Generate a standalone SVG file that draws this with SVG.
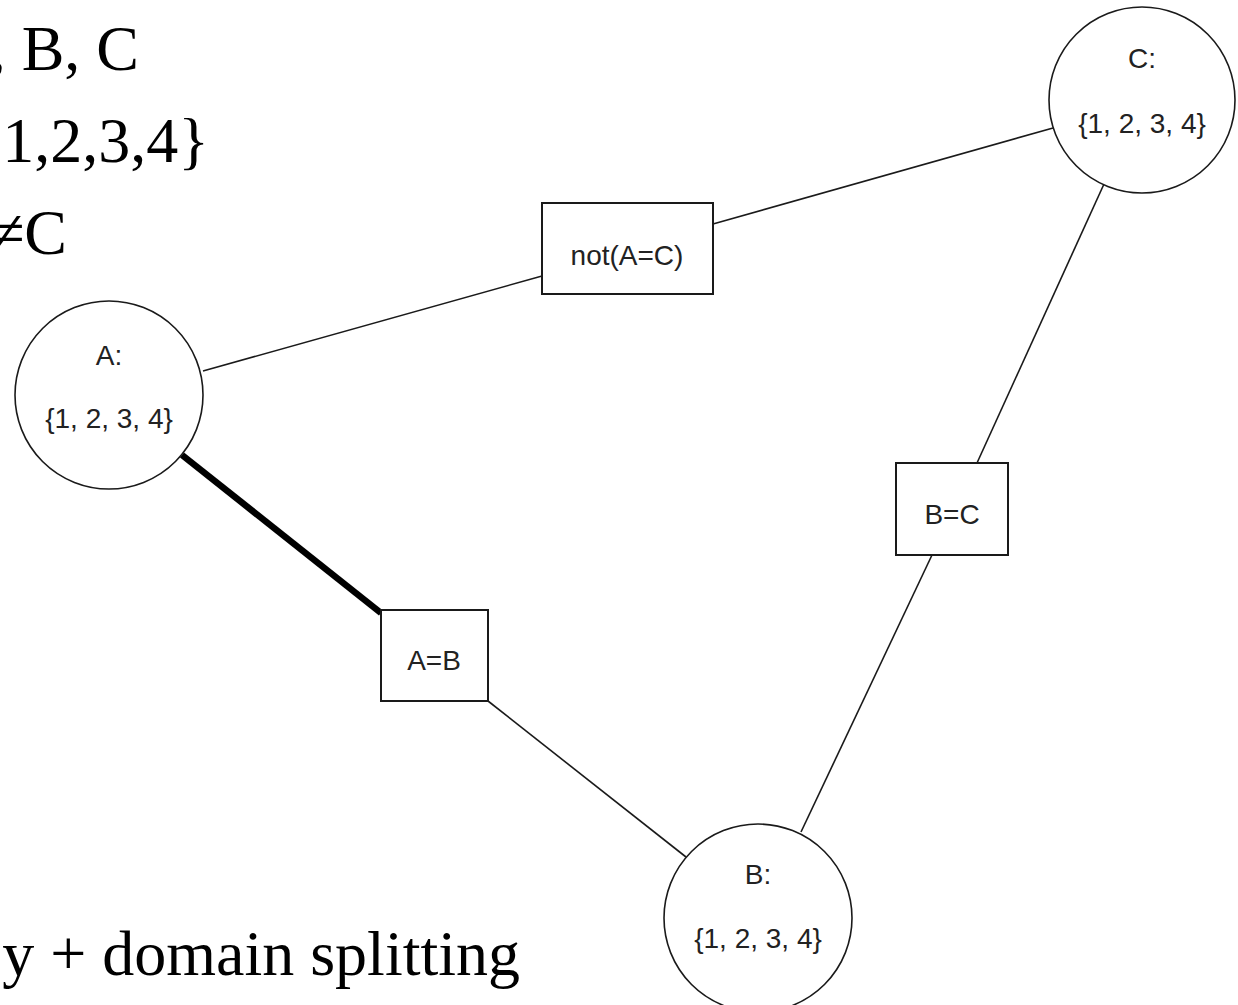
<svg xmlns="http://www.w3.org/2000/svg" width="1238" height="1005" viewBox="0 0 1238 1005">
  <style>
    .bg { fill: #ffffff; }
    .var circle { fill: #ffffff; stroke: #1a1a1a; stroke-width: 1.6; }
    .con rect { fill: #ffffff; stroke: #1a1a1a; stroke-width: 2; }
    .lbl { font-family: "Liberation Sans", Arial, sans-serif; font-size: 28px; fill: #222222; text-anchor: middle; }
    .edge { stroke: #1a1a1a; stroke-width: 1.6; fill: none; }
    .edge.active { stroke: #000000; stroke-width: 6.5; }
    .note { font-family: "Liberation Serif", "Times New Roman", serif; font-size: 64px; fill: #000000; text-anchor: end; }
  </style>

  <rect class="bg" x="0" y="0" width="1238" height="1005"/>

  <!-- problem statement text (clipped at the left edge) -->
  <g id="notes">
    <text class="note" x="139" y="70">, B, C</text>
    <text class="note" x="209" y="162">1,2,3,4}</text>
    <text class="note" x="67" y="254">≠C</text>
    <text class="note" x="520" y="975">y + domain splitting</text>
  </g>

  <!-- connectors between variables and constraints -->
  <g id="connectors">
    <line class="edge" x1="203" y1="371" x2="542" y2="276"/>
    <line class="edge" x1="713" y1="224" x2="1053" y2="128"/>
    <line class="edge" x1="1104" y1="184" x2="977" y2="463"/>
    <line class="edge" x1="932" y1="555" x2="801" y2="832"/>
    <line class="edge" x1="488" y1="701" x2="686" y2="857"/>
    <line class="edge active" x1="182" y1="455" x2="381" y2="613"/>
  </g>

  <!-- constraint nodes -->
  <g id="c_not_A_eq_C" class="con">
    <rect x="542" y="203" width="171" height="91"/>
    <text class="lbl" x="627" y="265">not(A=C)</text>
  </g>
  <g id="c_A_eq_B" class="con">
    <rect x="381" y="610" width="107" height="91"/>
    <text class="lbl" x="434" y="670">A=B</text>
  </g>
  <g id="c_B_eq_C" class="con">
    <rect x="896" y="463" width="112" height="92"/>
    <text class="lbl" x="952" y="524">B=C</text>
  </g>

  <!-- variable nodes -->
  <g id="var_A" class="var">
    <circle cx="109" cy="395" r="94"/>
    <text class="lbl" x="109" y="365">A:</text>
    <text class="lbl" x="109" y="428">{1, 2, 3, 4}</text>
  </g>
  <g id="var_B" class="var">
    <circle cx="758" cy="918" r="94"/>
    <text class="lbl" x="758" y="884">B:</text>
    <text class="lbl" x="758" y="948">{1, 2, 3, 4}</text>
  </g>
  <g id="var_C" class="var">
    <circle cx="1142" cy="100" r="93"/>
    <text class="lbl" x="1142" y="68">C:</text>
    <text class="lbl" x="1142" y="133">{1, 2, 3, 4}</text>
  </g>
</svg>
